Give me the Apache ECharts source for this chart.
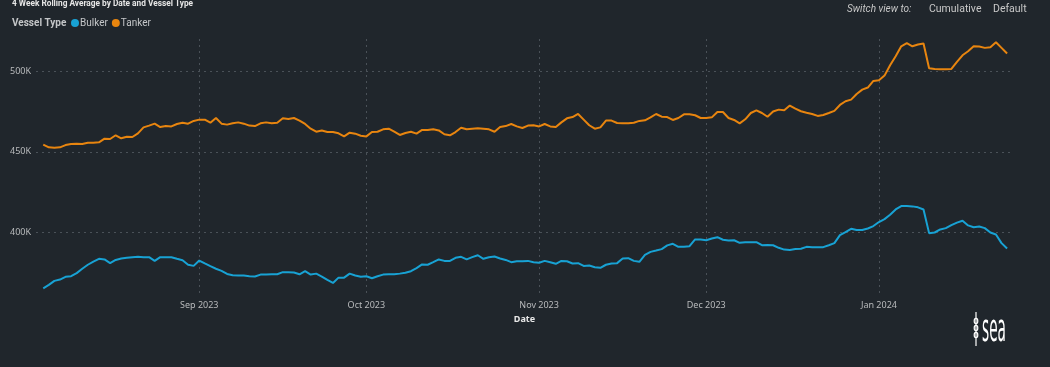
<!DOCTYPE html>
<html>
<head>
<meta charset="utf-8">
<script src="https://cdn.jsdelivr.net/npm/echarts@6/dist/echarts.min.js"></script>
<style>
html,body{margin:0;padding:0;background:#20262c;}
#c{width:1050px;height:367px;}
</style>
</head>
<body>
<div id="c"></div>
<script>
// ---- DATA ----
var startDate = '2023-08-04'; // first daily point
var seriesNames = ['Bulker', 'Tanker'];
var bulker = [
365.4,367.5,370.0,370.8,372.5,372.9,374.8,377.5,380.0,382.0,
383.7,383.3,381.0,383.0,383.9,384.3,384.7,384.9,384.7,384.7,
382.4,384.7,384.7,384.7,383.7,382.8,380.0,379.3,382.6,380.8,
379.1,377.5,376.2,374.3,373.5,373.3,373.3,372.9,372.7,373.9,
373.9,374.1,374.1,375.4,375.4,375.2,374.1,376.0,373.9,374.5,
372.7,370.6,368.7,372.0,372.0,374.5,373.3,372.5,372.9,371.6,
372.9,373.9,374.1,374.1,374.5,375.0,376.0,377.9,380.2,380.0,
381.6,383.3,382.4,382.4,384.3,384.9,383.3,384.7,385.9,383.7,
384.7,385.1,383.9,383.0,381.6,382.2,382.2,382.4,381.6,381.2,
382.4,381.6,380.6,382.4,382.2,380.8,381.0,379.3,379.5,378.5,
378.1,380.0,380.8,381.0,383.9,384.1,382.4,381.8,386.1,388.0,
388.8,389.7,392.0,393.0,391.1,391.1,391.5,395.7,395.7,395.2,
396.3,397.1,395.5,395.0,395.2,393.6,394.0,394.0,394.0,392.1,
392.3,392.1,390.5,389.4,389.2,389.7,389.9,391.1,390.9,390.9,
390.9,392.1,393.4,398.4,400.2,402.3,401.5,401.5,402.5,404.0,
406.5,408.3,411.0,414.3,416.4,416.4,416.2,415.6,414.3,399.6,
400.0,401.9,402.7,404.6,406.1,407.3,404.4,403.3,403.7,402.7,
400.0,398.8,393.4,390.1
];
var tanker = [
454.5,452.8,452.6,452.8,454.2,454.9,455.1,454.9,455.7,455.7,
455.9,458.2,458.0,460.3,458.4,459.4,459.2,461.5,465.2,466.3,
467.5,465.4,466.0,465.8,467.3,468.1,467.5,469.2,470.0,470.0,
468.1,471.0,467.5,466.9,467.7,468.3,467.5,466.3,466.0,467.7,
468.3,467.7,468.1,470.8,470.4,471.0,469.4,467.3,464.4,462.5,
463.3,462.3,462.3,461.5,459.6,461.9,461.3,460.0,459.6,462.3,
462.5,464.0,464.4,462.5,460.5,461.7,462.5,461.3,463.6,463.6,
464.0,463.3,460.9,460.3,462.3,465.0,464.0,464.4,464.6,464.4,
464.0,462.5,465.4,466.0,467.3,465.8,464.8,466.3,466.5,465.8,
467.3,465.8,465.4,468.3,470.8,471.6,473.5,470.0,466.5,464.4,
465.2,469.4,469.4,467.9,467.7,467.7,468.1,469.2,469.6,471.4,
473.5,471.8,471.6,469.8,471.0,473.3,473.3,472.7,471.0,471.0,
471.4,474.7,474.7,471.0,469.8,467.7,470.2,474.1,475.8,474.1,
471.8,475.0,476.2,475.8,478.7,476.8,475.2,474.3,473.5,472.3,
472.9,474.1,475.4,479.1,481.4,482.4,485.9,488.6,489.9,494.0,
494.4,497.3,503.7,509.3,515.5,517.4,515.5,516.6,517.2,501.9,
501.4,501.2,501.2,501.4,505.8,509.9,512.4,515.5,515.3,514.5,
514.9,518.0,514.5,511.0
];
var xTickDates = ['2023-09-01', '2023-10-01', '2023-11-01', '2023-12-01', '2024-01-01'];
var yTicks = [400000, 450000, 500000];
var monthNames = ['Jan','Feb','Mar','Apr','May','Jun','Jul','Aug','Sep','Oct','Nov','Dec'];

// ---- BUILD ----
var DAY = 86400000;
var t0 = Date.parse(startDate + 'T00:00:00Z');
function toPairs(arr) {
  return arr.map(function (v, i) { return [t0 + i * DAY, v * 1000]; });
}
var xTicks = xTickDates.map(function (d) { return Date.parse(d + 'T00:00:00Z'); });
var xMin = Date.parse('2023-09-01T00:00:00Z') - 29.3 * DAY;
var xMax = Date.parse('2024-01-01T00:00:00Z') + 24.06 * DAY;

var chart = echarts.init(document.getElementById('c'), null, {renderer: 'canvas'});
var font = 'Noto Sans';
chart.setOption({
  backgroundColor: '#20262c',
  animation: false,
  textStyle: {fontFamily: font},
  grid: {left: 36, right: 37, top: 39, bottom: 70, containLabel: false},
  legend: {
    data: seriesNames,
    left: 68, top: 16, padding: [2, 3, 2, 3],
    icon: 'circle', itemWidth: 8, itemHeight: 8, itemGap: 4,
    textStyle: {color: '#c4c6c8', fontSize: 10, fontFamily: 'Roboto', padding: [0, 0, 0, -4]}
  },
  xAxis: {
    type: 'value', min: xMin, max: xMax,
    name: 'Date', nameLocation: 'middle', nameGap: 17,
    nameTextStyle: {color: '#e8e8e8', fontSize: 9, fontWeight: 'bold'},
    axisLine: {show: false},
    axisTick: {show: false, customValues: xTicks},
    axisLabel: {
      customValues: xTicks, color: '#b8babc', fontSize: 9, margin: 4,
      formatter: function (v) { var d = new Date(v); return monthNames[d.getUTCMonth()] + ' ' + d.getUTCFullYear(); }
    },
    splitLine: {show: true, lineStyle: {color: '#4a5158', type: [2, 4], width: 1}}
  },
  yAxis: {
    type: 'value', min: 360000, max: 520000,
    axisLine: {show: false},
    axisTick: {show: false, customValues: yTicks},
    axisLabel: {
      customValues: yTicks, color: '#b8babc', fontSize: 9, margin: 5,
      formatter: function (v) { return (v / 1000) + 'K'; }
    },
    splitLine: {show: true, lineStyle: {color: '#4a5158', type: [2, 4], width: 1}}
  },
  series: [
    {name: 'Bulker', type: 'line', data: toPairs(bulker), showSymbol: false, symbol: 'circle',
     lineStyle: {width: 2, color: '#18a2d4'}, itemStyle: {color: '#18a2d4'}},
    {name: 'Tanker', type: 'line', data: toPairs(tanker), showSymbol: false, symbol: 'circle',
     lineStyle: {width: 2, color: '#e8850f'}, itemStyle: {color: '#e8850f'}}
  ],
  graphic: [
    {type: 'text', left: 12, top: 0, style: {text: '4 Week Rolling Average by Date and Vessel Type', fill: '#e6e6e6', font: 'bold 8.3px Roboto'}},
    {type: 'text', left: 12, top: 18, style: {text: 'Vessel Type', fill: '#c4c6c8', font: 'bold 10px Roboto'}},
    {type: 'text', left: 847, top: 4, style: {text: 'Switch view to:', fill: '#c8c8c8', font: 'italic 10px Roboto'}},
    {type: 'text', left: 929, top: 4, style: {text: 'Cumulative', fill: '#c8c8c8', font: '10.5px Roboto'}},
    {type: 'text', left: 993, top: 4, style: {text: 'Default', fill: '#c8c8c8', font: '10.5px Roboto'}},
    // logo
    {type: 'line', shape: {x1: 976, y1: 312, x2: 976, y2: 346}, style: {stroke: '#ffffff', lineWidth: 1.2}},
    {type: 'ellipse', shape: {cx: 976, cy: 321, rx: 1.8, ry: 2.6}, style: {fill: 'none', stroke: '#ffffff', lineWidth: 1.2}},
    {type: 'ellipse', shape: {cx: 976, cy: 328, rx: 1.8, ry: 2.6}, style: {fill: 'none', stroke: '#ffffff', lineWidth: 1.2}},
    {type: 'ellipse', shape: {cx: 976, cy: 335, rx: 1.8, ry: 2.6}, style: {fill: 'none', stroke: '#ffffff', lineWidth: 1.2}},
    {type: 'text', x: 982, y: 313, scaleX: 0.95, scaleY: 2.3, style: {text: 'sea', fill: '#ffffff', font: '16px "DejaVu Sans Condensed", "DejaVu Sans"', textVerticalAlign: 'top'}}
  ]
});
</script>
</body>
</html>
